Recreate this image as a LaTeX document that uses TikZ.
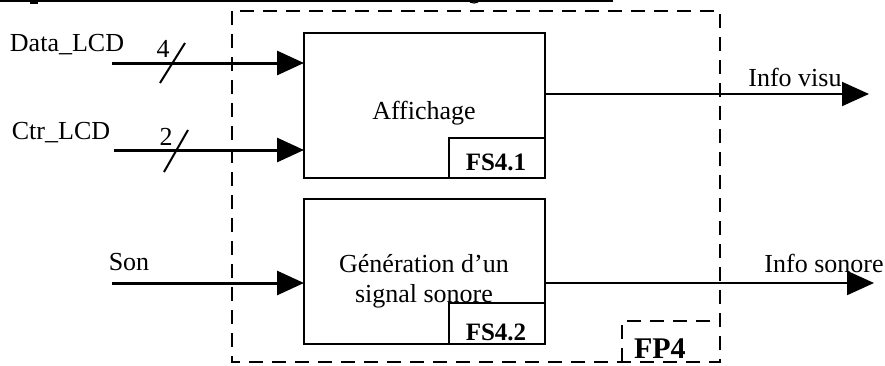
\documentclass[tikz,border=0pt]{standalone}
\usepackage{fontspec}
\setmainfont{Liberation Serif}
\usetikzlibrary{arrows.meta}
\begin{document}
\begin{tikzpicture}[x=1pt,y=-1pt,
  every node/.style={inner sep=0pt,outer sep=0pt},
  txt/.style={font=\fontsize{26}{30}\selectfont},
  fsbox/.style={draw,line width=1.6pt,minimum width=96pt,minimum height=40pt},
  fsblock/.style={draw,line width=1.6pt,minimum width=241pt,minimum height=145pt},
  fslabel/.style={font=\fontsize{25}{30}\selectfont\bfseries},
  frame/.style={line width=2.2pt,dash pattern=on 14pt off 9pt},
  inarrow/.style={line width=3pt,-{Triangle[length=27pt,width=24pt]}},
  outarrow/.style={line width=2pt,-{Triangle[length=27pt,width=24pt]}},
  bus/.style={line width=2pt}]
\useasboundingbox (0,0) rectangle (885,365);

% heading rule cut at the top edge
\draw[line width=1.5pt] (0,0.8) -- (613,0.8);
\draw[line width=1.6pt] (34,0) -- (34,3) (30,3) -- (38,3);
\draw[line width=1.2pt] (469,0) arc[start angle=180,end angle=360,x radius=5pt,y radius=3pt];

% FP4 frame
\draw[frame] (232,11) rectangle (720,362);
\draw[frame] (622,362) -- (622,321) -- (720,321);
\node[font=\fontsize{30}{34}\selectfont\bfseries,anchor=base west] (fp4) at (634,358) {FP4};

% function blocks
\node[fsblock] (aff) at (424.5,105.5) {};
\node[txt] (afft) at (424,113) {Affichage};
\node[fsbox,anchor=south east] (fs41) at (aff.south east) {};
\node[fslabel] at (496,162) {FS4.1};

\node[fsblock,minimum height=145pt] (gen) at (424.5,271.5) {};
\node[txt,align=center] (gent) at (424,281) {Génération d’un\\signal sonore};
\node[fsbox,minimum height=41pt,anchor=south east] (fs42) at (gen.south east) {};
\node[fslabel] at (496,332) {FS4.2};

% input signals
\coordinate (dIn) at (112,63);
\coordinate (cIn) at (114,150);
\coordinate (sIn) at (112,283);
\draw[inarrow] (dIn) -- (dIn -| aff.west);
\draw[inarrow] (cIn) -- (cIn -| aff.west);
\draw[inarrow] (sIn) -- (sIn -| gen.west);

\node[txt] (dlab) at (67,45) {Data\_LCD};
\node[txt] (clab) at (61,133) {Ctr\_LCD};
\node[txt] (slab) at (129,262) {Son};

% bus width marks
\draw[bus] (160,83) -- (185,43);
\node[txt] (n4) at (163,49) {4};
\draw[bus] (164,172) -- (188,130);
\node[txt] (n2) at (166,137) {2};

% output signals
\coordinate (vOut) at (869,94);
\coordinate (sOut) at (874,283);
\draw[outarrow] (vOut -| aff.east) -- (vOut);
\draw[outarrow] (sOut -| gen.east) -- (sOut);
\node[txt] (vlab) at (795,77) {Info visu};
\node[txt] (solab) at (824,263) {Info sonore};
\end{tikzpicture}
\end{document}
